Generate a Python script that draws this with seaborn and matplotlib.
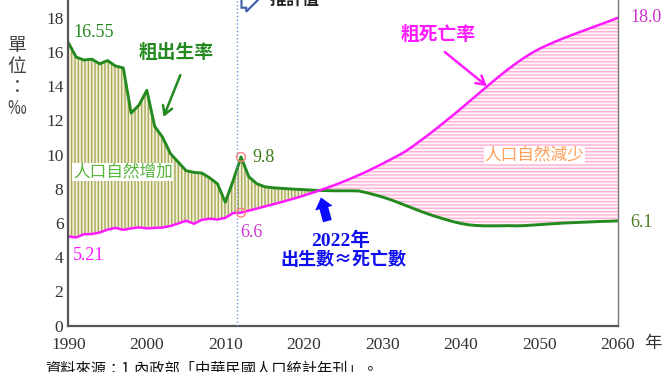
import matplotlib
matplotlib.use("Agg")
import numpy as np
import pandas as pd
import matplotlib.pyplot as plt
import seaborn as sns

# observed 1990-2012
years_obs = list(range(1990, 2013))
birth_obs = [16.55, 15.70, 15.53, 15.58, 15.31, 15.50, 15.18, 15.07, 12.43, 12.89,
             13.76, 11.65, 11.02, 10.06, 9.56, 9.06, 8.96, 8.92, 8.64, 8.29,
             7.21, 8.48, 9.86]
death_obs = [5.21, 5.15, 5.34, 5.35, 5.44, 5.61, 5.71, 5.60, 5.68, 5.74,
             5.68, 5.71, 5.73, 5.82, 5.97, 6.13, 5.95, 6.18, 6.25, 6.20,
             6.30, 6.58, 6.60]

# projection 2013-2060
years_proj = list(range(2013, 2061))
birth_proj = [8.70, 8.30, 8.12, 8.06, 8.03, 8.00, 7.97, 7.95, 7.92, 7.90,
              7.89, 7.88, 7.88, 7.88, 7.87, 7.77, 7.65, 7.52, 7.37, 7.20,
              7.02, 6.84, 6.66, 6.50, 6.35, 6.21, 6.08, 5.97, 5.89, 5.85,
              5.83, 5.83, 5.83, 5.84, 5.83, 5.84, 5.87, 5.90, 5.93, 5.96,
              5.99, 6.01, 6.03, 6.05, 6.07, 6.09, 6.10, 6.12]
death_proj = [6.72, 6.84, 6.96, 7.08, 7.20, 7.33, 7.46, 7.60, 7.75, 7.90,
              8.06, 8.23, 8.41, 8.60, 8.80, 9.01, 9.23, 9.46, 9.70, 9.94,
              10.20, 10.52, 10.86, 11.20, 11.56, 11.93, 12.30, 12.68, 13.07, 13.46,
              13.85, 14.24, 14.62, 14.98, 15.32, 15.64, 15.93, 16.18, 16.40, 16.60,
              16.79, 16.97, 17.14, 17.31, 17.48, 17.65, 17.82, 18.00]

xticks = [1990, 2000, 2010, 2020, 2030, 2040, 2050, 2060]
yticks = [0, 2, 4, 6, 8, 10, 12, 14, 16, 18]

years = np.array(years_obs + years_proj)
birth = np.array(birth_obs + birth_proj)
death = np.array(death_obs + death_proj)
df = pd.DataFrame({"year": years, "birth": birth, "death": death})

sns.set_style("white")
plt.rcParams["font.family"] = ["Liberation Serif", "Noto Sans CJK TC", "DejaVu Sans"]
plt.rcParams["hatch.linewidth"] = 1.0
cjk = ["Noto Sans CJK TC", "DejaVu Sans"]

GREEN = "#238a1f"
MAG = "#ff1aff"

fig = plt.figure(figsize=(6.72, 3.72), dpi=100)
ax = fig.add_axes([0.1017, 0.125, 0.8175, 0.919])

# shaded areas
ax.fill_between(df["year"], df["death"], df["birth"], where=df["birth"] >= df["death"],
                interpolate=True, facecolor="#f0f0d6", edgecolor="#a8a85a",
                hatch="|||||", linewidth=0)
ax.fill_between(df["year"], df["birth"], df["death"], where=df["death"] >= df["birth"],
                interpolate=True, facecolor="#fff2f8", edgecolor="#ffb3d6",
                hatch="-----", linewidth=0)

sns.lineplot(data=df, x="year", y="birth", color=GREEN, lw=2.1, ax=ax)
sns.lineplot(data=df, x="year", y="death", color=MAG, lw=1.8, ax=ax)

# 2012 markers
ax.scatter([2012, 2012], [birth_obs[-1], death_obs[-1]], s=40, facecolor="none",
           edgecolor="#ff8080", lw=1.0, zorder=5)

ax.axvline(2011.5, color="#6f95d8", lw=1.0, ls=":", zorder=4)

ax.set_xlim(1990, 2060)
ax.set_ylim(0, 20)
ax.set_xticks(xticks)
ax.set_xticks(range(1995, 2060, 10), minor=True)
ax.set_yticks(yticks)
ax.tick_params(axis="both", which="both", direction="in", labelsize=12.5,
               colors="#333333", length=5, width=1.2)
ax.tick_params(axis="x", pad=8)
ax.set_xlabel("")
ax.set_ylabel("")
for s in ["left", "bottom"]:
    ax.spines[s].set_color("#555555")
    ax.spines[s].set_linewidth(1.6)
ax.spines["top"].set_visible(False)
ax.spines["right"].set_color("#777777")
ax.spines["right"].set_linewidth(1.0)

# labels
ax.text(1990.6, 17.15, "16.55", color=GREEN, fontsize=13, va="center")
ax.text(1990.6, 4.1, "5.21", color=MAG, fontsize=13, va="center")
ax.text(2013.4, 9.85, "9.8", color="#3e7d1c", fontsize=13, va="center")
ax.text(2011.9, 5.45, "6.6", color="#cc3acc", fontsize=13, va="center")
ax.text(2061.6, 18.0, "18.0", color="#cc33cc", fontsize=13, va="center", clip_on=False)
ax.text(2061.6, 6.05, "6.1", color="#4d7d26", fontsize=13, va="center", clip_on=False)
ax.text(2063.4, -1.0, "年", family=cjk, fontsize=12.5, color="#333333", va="center",
        clip_on=False)

ax.text(1999.0, 16.0, "粗出生率", family=cjk, color=GREEN, fontsize=13.5,
        fontweight="bold", va="center")
ax.annotate("", xy=(2002.0, 12.05), xytext=(2004.4, 14.8),
            arrowprops=dict(arrowstyle="->,head_length=0.6,head_width=0.35",
                            color=GREEN, lw=1.8))
ax.text(2032.3, 17.0, "粗死亡率", family=cjk, color=MAG, fontsize=13.5,
        fontweight="bold", style="italic", va="center")
ax.annotate("", xy=(2043.6, 13.9), xytext=(2037.7, 16.1),
            arrowprops=dict(arrowstyle="->,head_length=0.6,head_width=0.35",
                            color=MAG, lw=1.8))

ax.text(1990.6, 8.98, "人口自然增加", family=cjk, color="#56b43c", fontsize=12,
        va="center", bbox=dict(fc="white", ec="none", pad=0.5))
ax.text(2043.0, 9.97, "人口自然減少", family=cjk, color="#ff9f5a", fontsize=12,
        va="center", bbox=dict(fc="white", ec="none", pad=0.5))

ax.annotate("", xy=(2022.1, 7.65), xytext=(2023.1, 5.95),
            arrowprops=dict(arrowstyle="simple,head_length=0.8,head_width=1.3,tail_width=0.65",
                            color="#0a0aff", lw=0))
ax.text(2024.7, 4.95, "2022年", color="#1010ee", fontsize=14, fontweight="bold",
        ha="center", va="center")
ax.text(2025.0, 3.85, "出生數≈死亡數", family=cjk, color="#1010ee", fontsize=13,
        fontweight="bold", ha="center", va="center")

# projection marker at top
ax.text(2012.7, 19.05, "  ", fontsize=9, ha="center", va="center",
        bbox=dict(boxstyle="rarrow,pad=0.15", fc="white", ec="#3a5ea8", lw=1.5))
ax.text(2015.7, 19.05, "推計值", family=cjk, fontsize=12, fontweight="bold",
        color="#222222", va="center")

# y label stacked
fig.text(17 / 672, 1 - 77 / 372, "單\n位\n：\n‰", family=cjk, fontsize=13.5,
         color="#444444", ha="center", va="center", linespacing=1.0)

fig.text(45 / 672, 1 - 361 / 372, "資料來源：1.內政部「中華民國人口統計年刊」。",
         family=cjk, fontsize=11, color="#111111", va="top")

fig.savefig("out.png", dpi=100)
